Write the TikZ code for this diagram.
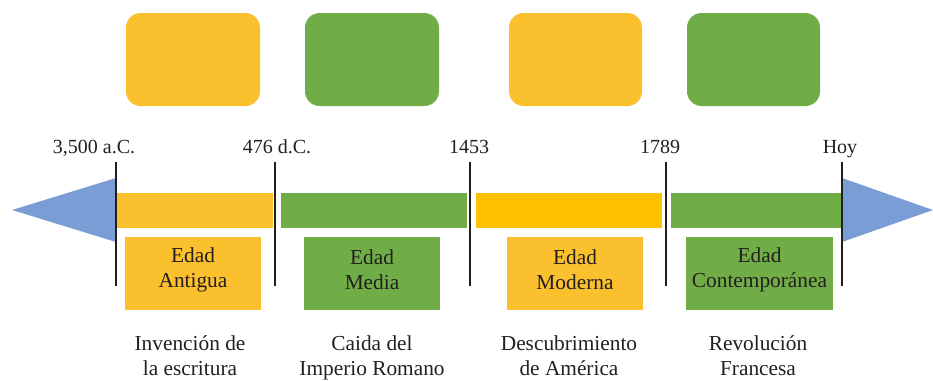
\documentclass[tikz,border=0pt]{standalone}
\usepackage{fontspec}
\setmainfont{Liberation Serif}
\definecolor{amber}{HTML}{FBC02D}
\definecolor{gold}{HTML}{FFC000}
\definecolor{leaf}{HTML}{70AD47}
\definecolor{sky}{HTML}{7B9DD6}
\definecolor{ink}{HTML}{231F20}
\tikzset{
  topbox/.style={rounded corners=11pt, draw=none},
  agebox/.style={draw=none, minimum height=73*0.75pt, inner sep=0pt},
  agetext/.style={text=ink, align=center, font=\fontsize{16pt}{19pt}\selectfont},
  datelabel/.style={text=ink, font=\fontsize{15pt}{18pt}\selectfont, anchor=base},
  eventlabel/.style={text=ink, align=center, font=\fontsize{16pt}{18.5pt}\selectfont, anchor=north},
  tick/.style={draw=ink, line width=0.9pt}
}
\begin{document}
\begin{tikzpicture}[x=0.75pt,y=-0.75pt]
\useasboundingbox (0,0) rectangle (933,380);
% top rounded boxes
\fill[amber,topbox] (126,13) rectangle (260,106);
\fill[leaf,topbox] (305,13) rectangle (439,106);
\fill[amber,topbox] (509,13) rectangle (642,106);
\fill[leaf,topbox] (687,13) rectangle (820,106);
% arrows
\fill[sky] (12,210) -- (116,178) -- (116,242) -- cycle;
\fill[sky] (933,210) -- (842,178) -- (842,242) -- cycle;
% bars
\fill[amber] (116,193) rectangle (273,228);
\fill[leaf] (281,193) rectangle (467,228);
\fill[gold] (476,193) rectangle (662,228);
\fill[leaf] (671,193) rectangle (842,228);
% ticks
\foreach \x in {116,275,470,666,842} \draw[tick] (\x,162) -- (\x,286);
% date labels
\node[datelabel] (d1) at (94,153) {3,500 a.C.};
\node[datelabel] (d2) at (277,153) {476 d.C.};
\node[datelabel] (d3) at (469,153) {1453};
\node[datelabel] (d4) at (660,153) {1789};
\node[datelabel] (d5) at (840,153) {Hoy};
% age boxes
\node[agebox, fill=amber, minimum width=136*0.75pt] (a1) at (193,273.5) {};
\node[agebox, fill=leaf, minimum width=136*0.75pt] (a2) at (372,273.5) {};
\node[agebox, fill=amber, minimum width=136*0.75pt] (a3) at (575,273.5) {};
\node[agebox, fill=leaf, minimum width=147*0.75pt] (a4) at (759.5,273.5) {};
\node[agetext] (t1) at ([yshift=2.7pt]a1.center) {Edad\\Antigua};
\node[agetext] (t2) at ([yshift=2.7pt]a2.center) {Edad\\Media};
\node[agetext] (t3) at ([yshift=2.7pt]a3.center) {Edad\\Moderna};
\node[agetext] (t4) at ([yshift=2.7pt]a4.center) {Edad\\Contemporánea};
% events
\node[eventlabel] (e1) at (190,331) {Invención de\\la escritura};
\node[eventlabel] (e2) at (372,331) {Caida del\\Imperio Romano};
\node[eventlabel] (e3) at (569,331) {Descubrimiento\\de América};
\node[eventlabel] (e4) at (758,331) {Revolución\\Francesa};
\end{tikzpicture}
\end{document}
